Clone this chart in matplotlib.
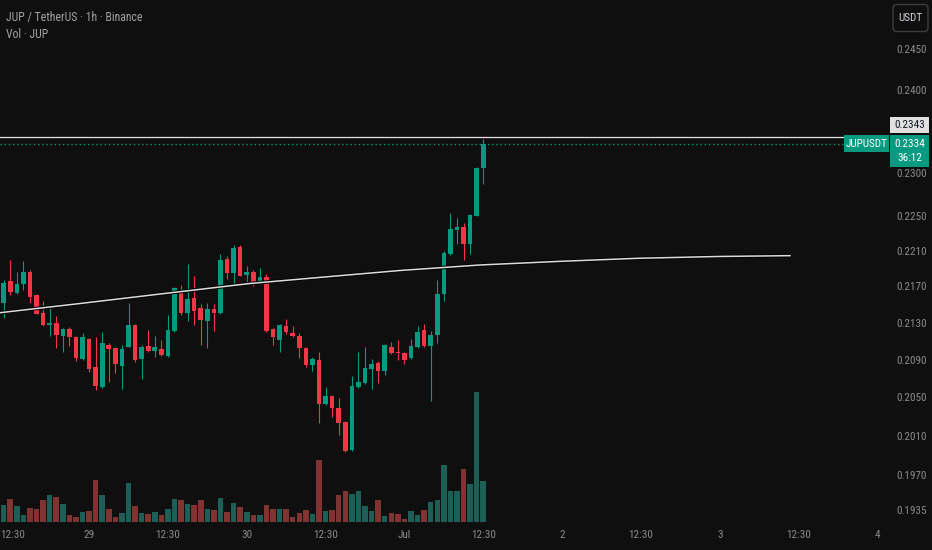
import matplotlib
matplotlib.use('Agg')
import matplotlib.pyplot as plt
import matplotlib.patheffects as pe
from matplotlib import font_manager as fm
from matplotlib.patches import Rectangle, FancyBboxPatch
from matplotlib.transforms import IdentityTransform, ScaledTranslation
from matplotlib.ticker import FixedLocator, FixedFormatter, NullLocator

# JUP/USDT 1h candles (oldest first)
opens = [.2151, .2176, .2162, .2173, .2186, .2160, .2140, .2127, .2130, .2115,
         .2123, .2114, .2091, .2112, .2082, .2061, .2106, .2102, .2083, .2104,
         .2127, .2091, .2105, .2099, .2101, .2094, .2121, .2166, .2141, .2157,
         .2146, .2132, .2145, .2140, .2201, .2185, .2214, .2183, .2186, .2174,
         .2180, .2123, .2111, .2126, .2119, .2115, .2102, .2084, .2090, .2043,
         .2051, .2039, .2024, .1995, .2061, .2065, .2080, .2086, .2078, .2104,
         .2098, .2097, .2092, .2103, .2122, .2105, .2117, .2161, .2206, .2234,
         .2237, .2218, .2250, .2305]
highs = [.2177, .2199, .2186, .2198, .2188, .2161, .2154, .2147, .2137, .2124,
         .2125, .2115, .2119, .2113, .2114, .2120, .2108, .2103, .2106, .2152,
         .2128, .2106, .2122, .2115, .2111, .2138, .2169, .2171, .2195, .2181,
         .2150, .2151, .2150, .2206, .2204, .2216, .2216, .2193, .2188, .2190,
         .2184, .2124, .2129, .2134, .2126, .2119, .2104, .2093, .2098, .2061,
         .2052, .2049, .2025, .2073, .2098, .2103, .2091, .2088, .2107, .2109,
         .2111, .2098, .2112, .2126, .2128, .2121, .2177, .2210, .2253, .2247,
         .2241, .2252, .2307, .2340]
lows = [.2135, .2160, .2161, .2166, .2152, .2139, .2126, .2115, .2102, .2098,
        .2105, .2088, .2090, .2077, .2058, .2060, .2066, .2076, .2059, .2103,
        .2087, .2069, .2098, .2093, .2094, .2093, .2120, .2138, .2132, .2127,
        .2106, .2102, .2121, .2139, .2178, .2173, .2181, .2173, .2170, .2173,
        .2120, .2106, .2098, .2118, .2114, .2092, .2082, .2078, .2023, .2042,
        .2029, .2011, .1993, .1994, .2060, .2064, .2059, .2065, .2074, .2096,
        .2090, .2085, .2091, .2102, .2103, .2046, .2108, .2154, .2205, .2218,
        .2199, .2206, .2249, .2287]
closes = [.2174, .2164, .2173, .2186, .2158, .2139, .2127, .2130, .2117, .2123,
          .2114, .2092, .2114, .2080, .2062, .2108, .2101, .2085, .2101, .2127,
          .2090, .2103, .2099, .2103, .2095, .2122, .2168, .2141, .2156, .2143,
          .2133, .2145, .2140, .2199, .2185, .2213, .2182, .2186, .2174, .2180,
          .2121, .2114, .2127, .2120, .2115, .2102, .2084, .2091, .2043, .2051,
          .2039, .2023, .1994, .2062, .2066, .2081, .2085, .2078, .2106, .2097,
          .2097, .2090, .2105, .2120, .2105, .2116, .2161, .2207, .2235, .2237,
          .2217, .2251, .2306, .2334]
volume = [17.3, 23.3, 15.7, 7.3, 14, 12.7, 22.3, 26.7, 25.3, 18,
          6.7, 5.3, 9.7, 11.3, 42.3, 26.7, 12.7, 5.3, 8.7, 39,
          16, 8.7, 7.7, 9.7, 6.7, 12.7, 23.3, 22.3, 18, 17,
          22.3, 12.7, 11.7, 24.3, 9.7, 19.3, 15, 9.7, 6.7, 6.7,
          17, 12.7, 12.7, 12.7, 5.3, 8.7, 11.7, 7.7, 62.3, 10.7,
          11.7, 26.7, 30.7, 27.7, 30.7, 16, 10.7, 22.3, 5.7, 8.7,
          7.7, 3.3, 10.7, 6.7, 11.7, 20.3, 22.3, 57, 30.7, 30.7,
          52.7, 38.3, 130.7, 41.3]

# drawn curve (candle index, price)
curve_idx = [-0.56, 11.6, 23.8, 37.5, 49.7, 60.3, 72.5, 84.7, 96.8, 109.0, 119.7]
curve_price = [.21408, .21509, .21614, .21731, .21809, .21876, .21938, .21979, .22014, .22034, .22043]

high_line = 0.2343
last_price = 0.2334
countdown = '36:12'
price_ticks = [0.2450, 0.2400, 0.2300, 0.2250, 0.2210, 0.2170, 0.2130,
               0.2090, 0.2050, 0.2010, 0.1970, 0.1935]
time_tick_pos = [1, 13, 25, 37, 49, 61, 73, 85, 97, 109, 121, 133]
time_tick_labels = ['12:30', '29', '12:30', '30', '12:30', 'Jul', '12:30',
                    '2', '12:30', '3', '12:30', '4']

bg = '#0f0f0f'
up_col = '#089981'
dn_col = '#f23645'
up_vol = '#1d5f56'
dn_vol = '#7f3432'
txt = '#8b8b8b'

names = {f.name for f in fm.fontManager.ttflist}
font = 'DejaVu Sans'
for cand in ['Liberation Sans Narrow', 'Roboto Condensed', 'Open Sans Condensed', 'Liberation Sans']:
    if cand in names:
        font = cand
        break
plt.rcParams['font.family'] = [font, 'DejaVu Sans']

W, H = 932, 550
fig = plt.figure(figsize=(W / 100, H / 100), dpi=100, facecolor=bg)
rect = [0, 28 / H, 884 / W, 522 / H]

ax_vol = fig.add_axes(rect)
ax = fig.add_axes(rect, sharex=ax_vol)
ax_vol.set_facecolor(bg)
ax.patch.set_visible(False)

n = len(opens)
xs = list(range(n))
is_up = [c >= o for o, c in zip(opens, closes)]

# volume
ax_vol.bar(xs, volume, width=0.84, color=[up_vol if u else dn_vol for u in is_up], linewidth=0)
ax_vol.set_ylim(0, max(volume) * 4.0)
ax_vol.axis('off')

# candles
ax.set_yscale('log')
cols = [up_col if u else dn_col for u in is_up]
ax.vlines(xs, lows, highs, colors=cols, linewidth=0.8, zorder=2)
bottoms = [min(o, c) for o, c in zip(opens, closes)]
heights = [max(abs(c - o), 0.00004) for o, c in zip(opens, closes)]
ax.bar(xs, heights, bottom=bottoms, width=0.7, color=cols, linewidth=0, zorder=3)

ax.plot(curve_idx, curve_price, color='#dcdcdc', lw=1.1, zorder=4,
        path_effects=[pe.Stroke(linewidth=2.6, foreground='#050505'), pe.Normal()])
ax.axhline(high_line, color='#e6e6e6', lw=0.9, zorder=4)
ax.axhline(last_price, color=up_col, lw=1, ls=(0, (1, 2)), zorder=4)

ax.set_xlim(-0.56, 134.0)
ax.set_ylim(0.192315, 0.251276)
for a in (ax, ax_vol):
    for s in a.spines.values():
        s.set_visible(False)

ax.yaxis.tick_right()
ax.yaxis.set_major_locator(FixedLocator(price_ticks))
ax.yaxis.set_major_formatter(FixedFormatter([f'{p:.4f}' for p in price_ticks]))
ax.yaxis.set_minor_locator(NullLocator())
ax.tick_params(axis='y', length=0, pad=8.6, labelsize=8, labelcolor=txt)
ax.set_xticks(time_tick_pos)
ax.set_xticklabels(time_tick_labels)
ax.tick_params(axis='x', length=0, pad=6, labelsize=8, labelcolor=txt)
ax_vol.tick_params(length=0)
# keep the first time label inside the picture
first = ax.get_xticklabels()[0]
first.set_transform(first.get_transform() + ScaledTranslation(2.5 / 100, 0, fig.dpi_scale_trans))

# header texts
fig.text(6, H - 17, 'JUP / TetherUS · 1h · Binance', transform=IdentityTransform(),
         color='#a3a3a3', fontsize=8.5, va='center', ha='left')
fig.text(6, H - 35, 'Vol · JUP', transform=IdentityTransform(),
         color='#a3a3a3', fontsize=8.5, va='center', ha='left')

# USDT button
fig.patches.append(FancyBboxPatch((893, H - 31.5), 35, 27, boxstyle='round,pad=0,rounding_size=4',
                                  transform=IdentityTransform(), fc=bg, ec='#3d3d3d', lw=1))
fig.text(910.5, H - 18, 'USDT', transform=IdentityTransform(), color='#d1d4dc',
         fontsize=8, ha='center', va='center')

# price labels on the scale
y_last = ax.transData.transform((0, last_price))[1]
teal_top = y_last + 9
fig.patches.append(Rectangle((890, teal_top - 32), 39, 32, transform=IdentityTransform(),
                             fc=up_col, ec='none'))
fig.text(909.5, y_last + 0.5, f'{last_price:.4f}', transform=IdentityTransform(), color='white',
         fontsize=8, ha='center', va='center')
fig.text(909.5, y_last - 14, countdown, transform=IdentityTransform(), color='white',
         fontsize=8, ha='center', va='center')
fig.patches.append(Rectangle((844, teal_top - 17), 45, 17, transform=IdentityTransform(),
                             fc=up_col, ec='none'))
fig.text(866.5, y_last + 0.5, 'JUPUSDT', transform=IdentityTransform(), color='white',
         fontsize=8, ha='center', va='center')
fig.patches.append(Rectangle((890, teal_top + 2), 39, 16, transform=IdentityTransform(),
                             fc='#e0e0e0', ec='none'))
fig.text(909.5, teal_top + 10, f'{high_line:.4f}', transform=IdentityTransform(), color='#131722',
         fontsize=8, ha='center', va='center')

fig.savefig('out.png', dpi=100, facecolor=bg)
